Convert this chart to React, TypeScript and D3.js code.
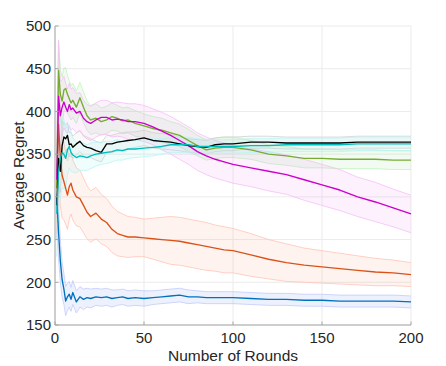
import { scaleLinear, line, area } from 'd3'

const rounds = [1, 2, 3, 4, 5, 6, 7, 8, 9, 10, 12, 14, 16, 18, 20, 23, 26, 29, 32, 35, 38, 41, 45, 50, 55, 60, 65, 70, 75, 80, 85, 90, 95, 100, 110, 120, 130, 140, 150, 160, 170, 180, 190, 200]

const blueMean = [300, 258, 225, 203, 192, 178, 183, 186, 180, 188, 177, 183, 180, 182, 181, 183, 182, 183, 181, 182, 183, 181, 182, 181, 182, 183, 184, 185, 183, 183, 182, 182, 182, 182, 181, 180, 180, 179, 179, 178, 178, 178, 178, 177]
const blueSpread = [40, 30, 25, 20, 18, 17, 16, 15, 14, 14, 13, 12, 12, 11, 11, 10, 10, 10, 10, 9, 9, 9, 9, 9, 8, 8, 8, 8, 8, 7, 7, 7, 7, 7, 7, 7, 7, 7, 7, 7, 7, 7, 7, 7]

const orangeMean = [310, 385, 345, 325, 318, 310, 302, 312, 316, 308, 300, 298, 290, 282, 277, 281, 274, 270, 262, 257, 255, 253, 253, 252, 251, 250, 249, 248, 246, 244, 242, 240, 238, 237, 232, 227, 223, 220, 218, 216, 214, 212, 211, 209]
const orangeSpread = [50, 60, 55, 50, 45, 42, 40, 38, 36, 35, 34, 33, 32, 31, 30, 30, 29, 28, 27, 26, 25, 24, 23, 22, 24, 26, 28, 28, 28, 28, 28, 27, 27, 26, 25, 23, 22, 20, 19, 18, 17, 16, 15, 14]

const greenMean = [310, 448, 420, 412, 425, 427, 420, 415, 410, 413, 405, 416, 405, 395, 390, 392, 388, 390, 394, 392, 389, 390, 386, 383, 380, 378, 375, 372, 366, 360, 355, 357, 358, 358, 355, 350, 348, 345, 345, 344, 344, 344, 343, 343]
const greenSpread = [40, 35, 30, 28, 26, 24, 22, 21, 20, 20, 19, 18, 18, 17, 17, 17, 16, 16, 16, 15, 15, 15, 15, 14, 14, 14, 13, 13, 13, 12, 12, 12, 12, 12, 11, 11, 11, 11, 11, 11, 11, 11, 11, 11]

const magentaMean = [320, 418, 395, 405, 411, 405, 400, 408, 402, 404, 398, 400, 392, 388, 386, 390, 393, 393, 390, 391, 390, 388, 388, 386, 382, 377, 372, 366, 360, 353, 348, 344, 341, 338, 334, 330, 326, 320, 314, 308, 300, 294, 287, 280]
const magentaSpread = [45, 65, 40, 32, 30, 28, 26, 25, 24, 24, 23, 22, 21, 20, 20, 20, 20, 20, 20, 20, 20, 21, 21, 21, 21, 22, 22, 22, 22, 22, 22, 22, 22, 22, 22, 23, 23, 24, 24, 24, 23, 23, 22, 22]

const blackMean = [290, 345, 330, 360, 370, 368, 372, 361, 362, 358, 362, 365, 360, 358, 357, 354, 352, 362, 362, 364, 365, 366, 367, 369, 366, 365, 364, 362, 360, 359, 358, 361, 362, 362, 364, 364, 363, 363, 363, 363, 364, 364, 364, 364]
const blackSpread = [40, 30, 25, 20, 18, 16, 15, 14, 14, 13, 13, 12, 12, 12, 11, 11, 11, 10, 10, 10, 10, 10, 9, 9, 9, 9, 9, 8, 8, 8, 8, 8, 8, 8, 7, 7, 7, 7, 7, 7, 7, 7, 7, 7]

const cyanMean = [280, 330, 345, 352, 350, 345, 355, 359, 352, 349, 346, 348, 347, 346, 348, 350, 351, 352, 353, 355, 354, 356, 356, 357, 358, 359, 361, 361, 361, 359, 359, 359, 359, 359, 360, 360, 361, 361, 361, 361, 362, 362, 362, 362]
const cyanSpread = [50, 50, 45, 42, 40, 35, 30, 25, 22, 20, 18, 17, 16, 15, 15, 14, 13, 13, 12, 12, 11, 11, 10, 10, 10, 9, 9, 9, 9, 9, 8, 8, 8, 8, 8, 8, 8, 8, 8, 8, 8, 8, 8, 8]

const xTicks = [0, 50, 100, 150, 200]
const yTicks = [150, 200, 250, 300, 350, 400, 450, 500]

const series = [
  { name: 'blue', mean: blueMean, spread: blueSpread, color: '#0072BD', fill: '#6f8ff5', fillOpacity: 0.12, edge: '#c3ccfa' },
  { name: 'orange', mean: orangeMean, spread: orangeSpread, color: '#D95319', fill: '#ff9f85', fillOpacity: 0.12, edge: '#ffc4b6' },
  { name: 'green', mean: greenMean, spread: greenSpread, color: '#77AC30', fill: '#8de08a', fillOpacity: 0.12, edge: '#c2f2bf' },
  { name: 'magenta', mean: magentaMean, spread: magentaSpread, color: '#CC00CC', fill: '#ee8aee', fillOpacity: 0.12, edge: '#f6bff6' },
  { name: 'black', mean: blackMean, spread: blackSpread, color: '#000000', fill: '#b0b0b0', fillOpacity: 0.08, edge: '#d2d2d2' },
  { name: 'cyan', mean: cyanMean, spread: cyanSpread, color: '#00BDBD', fill: '#7deeee', fillOpacity: 0.12, edge: '#b8f5f5' },
]

let App = () => {
  let width = 446
  let height = 366
  let margin = { top: 26, right: 35, bottom: 41, left: 55 }
  let innerWidth = width - margin.left - margin.right
  let innerHeight = height - margin.top - margin.bottom

  let xScale = scaleLinear().domain([0, 200]).range([0, innerWidth])
  let yScale = scaleLinear().domain([150, 500]).range([innerHeight, 0])

  let axisColor = '#a6a6a6'
  let textColor = '#262626'
  let font = '"Liberation Sans", Arial, Helvetica, sans-serif'
  let idx = rounds.map((_, i) => i)

  return (
    <div style={{ position: 'fixed', left: 0, top: 0 }}>
      <svg width={width} height={height} style={{ display: 'block', background: '#fff' }}>
        <g transform={`translate(${margin.left},${margin.top})`}>
          {/* grid */}
          {xTicks.map(t => (
            <line key={'gx' + t} x1={xScale(t)} x2={xScale(t)} y1={0} y2={innerHeight} stroke='#ebebeb' strokeWidth={1} />
          ))}
          {yTicks.map(t => (
            <line key={'gy' + t} x1={0} x2={innerWidth} y1={yScale(t)} y2={yScale(t)} stroke='#ebebeb' strokeWidth={1} />
          ))}

          {/* shaded bands with lighter edges */}
          {series.map(s => {
            let band = area<number>()
              .x(i => xScale(rounds[i]))
              .y0(i => yScale(s.mean[i] - s.spread[i]))
              .y1(i => yScale(s.mean[i] + s.spread[i]))
            let lower = line<number>().x(i => xScale(rounds[i])).y(i => yScale(s.mean[i] - s.spread[i]))
            let upper = line<number>().x(i => xScale(rounds[i])).y(i => yScale(s.mean[i] + s.spread[i]))
            return (
              <g key={'band' + s.name}>
                <path d={band(idx) || ''} fill={s.fill} fillOpacity={s.fillOpacity} stroke='none' />
                <path d={lower(idx) || ''} fill='none' stroke={s.edge} strokeWidth={0.8} />
                <path d={upper(idx) || ''} fill='none' stroke={s.edge} strokeWidth={0.8} />
              </g>
            )
          })}

          {/* mean lines */}
          {series.map(s => {
            let meanLine = line<number>().x(i => xScale(rounds[i])).y(i => yScale(s.mean[i]))
            return (
              <path key={'line' + s.name} d={meanLine(idx) || ''} fill='none' stroke={s.color} strokeWidth={1.35} strokeLinejoin='round' />
            )
          })}

          {/* axes */}
          <line x1={0} x2={innerWidth} y1={innerHeight} y2={innerHeight} stroke={axisColor} strokeWidth={1} />
          <line x1={0} x2={0} y1={0} y2={innerHeight} stroke={axisColor} strokeWidth={1} />
          {xTicks.map(t => (
            <g key={'xt' + t} transform={`translate(${xScale(t)},0)`}>
              <line y1={innerHeight} y2={innerHeight - 3.5} stroke={axisColor} />
              <text y={innerHeight + 18} textAnchor='middle' fontFamily={font} fontSize={15} fill={textColor}>{t}</text>
            </g>
          ))}
          {yTicks.map(t => (
            <g key={'yt' + t} transform={`translate(0,${yScale(t)})`}>
              <line x1={0} x2={3.5} stroke={axisColor} />
              <text x={-4} dy='.35em' textAnchor='end' fontFamily={font} fontSize={15} fill={textColor}>{t}</text>
            </g>
          ))}

          <text x={innerWidth / 2} y={innerHeight + 36} textAnchor='middle' fontFamily={font} fontSize={15.5} fill={textColor}>Number of Rounds</text>
          <text transform={`translate(${-31},${innerHeight / 2}) rotate(-90)`} textAnchor='middle' fontFamily={font} fontSize={15.5} fill={textColor}>Average Regret</text>
        </g>
      </svg>
    </div>
  )
}

export default App
